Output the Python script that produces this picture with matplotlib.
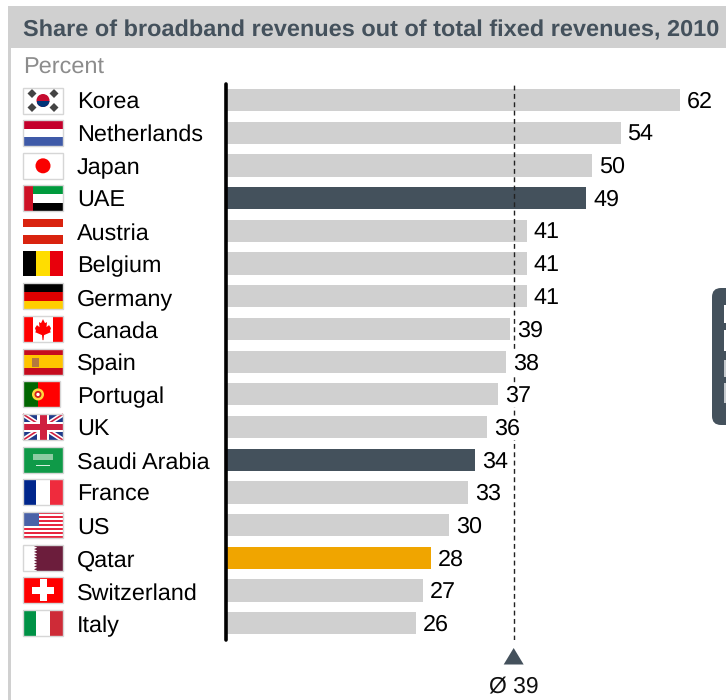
import numpy as np
import matplotlib
matplotlib.use('Agg')
import matplotlib.pyplot as plt
from matplotlib.patches import Rectangle, Circle, Polygon, FancyBboxPatch

plt.rcParams['font.family'] = ['Liberation Sans', 'DejaVu Sans']
plt.rcParams['text.hinting'] = 'none'
plt.rcParams['text.hinting_factor'] = 8

countries = ['Korea', 'Netherlands', 'Japan', 'UAE', 'Austria', 'Belgium', 'Germany', 'Canada',
             'Spain', 'Portugal', 'UK', 'Saudi Arabia', 'France', 'US', 'Qatar', 'Switzerland', 'Italy']
values = [62.0, 53.9, 50.0, 49.2, 41.1, 41.1, 41.1, 38.8, 38.3, 37.2, 35.7, 34.0, 33.1, 30.5, 28.0, 26.9, 26.0]
labels = ['62', '54', '50', '49', '41', '41', '41', '39', '38', '37', '36', '34', '33', '30', '28', '27', '26']
average = 39.3
average_label = 'Ø 39'
title = 'Share of broadband revenues out of total fixed revenues, 2010'
unit = 'Percent'

GREY = '#d0d0d0'
SLATE = '#44515c'
AMBER = '#f0a500'
colors = {'UAE': SLATE, 'Saudi Arabia': SLATE, 'Qatar': AMBER}

fig = plt.figure(figsize=(7.26, 7.0), dpi=100)

# pixel overlay for the frame, flags and text
bg = fig.add_axes([0, 0, 1, 1])
bg.set_xlim(0, 726)
bg.set_ylim(700, 0)
bg.axis('off')

bg.add_patch(Rectangle((8, 6), 718, 42, color=GREY, lw=0))
bg.add_patch(Rectangle((8, 48), 2.5, 652, color=GREY, lw=0))
bg.text(23, 36, title, fontsize=16.9, fontweight='bold', color=SLATE, va='baseline')
bg.text(23, 73.3, unit, fontsize=16.9, color='#8c8c8c', va='baseline')

# box cut off by the right edge
bg.add_patch(FancyBboxPatch((712, 288), 40, 137, boxstyle='round,pad=0,rounding_size=9',
                            fc=SLATE, ec='none', lw=0))
for y0, y1, a in [(305, 323, 1), (330, 351, 1), (360, 377, 0.7), (383, 403, 0.7)]:
    bg.add_patch(Rectangle((724, y0), 2, y1 - y0, color='white', lw=0, alpha=a))

# bars
ax = fig.add_axes([226 / 726, 1 - 640 / 700, 500 / 726, 556 / 700])
ax.patch.set_alpha(0)
ax.set_xlim(0, 500 / 7.32)
ax.set_ylim(16.51, -0.49)
ypos = np.arange(len(countries))
ax.barh(ypos, values, height=0.68, color=[colors.get(c, GREY) for c in countries], lw=0, zorder=2)
ax.axvline(average, color='#222222', lw=1, dashes=(3.5, 2.5), zorder=3)
for y, v, l in zip(ypos, values, labels):
    ax.annotate(l, xy=(v, y), xytext=(5, -5.5), textcoords='offset points', fontsize=16.85, color='black',
                va='baseline', ha='left', zorder=4, bbox=dict(fc='white', ec='none', pad=0.5))
for s in ['top', 'right', 'bottom']:
    ax.spines[s].set_visible(False)
ax.spines['left'].set_linewidth(2.6)
ax.spines['left'].set_capstyle('round')
ax.set_xticks([])
ax.set_yticks(ypos)
ax.set_yticklabels([])
ax.tick_params(left=False)
for y, c in zip(ypos, countries):
    bg.text(77, 108.5 + 32.72 * y, c, fontsize=16.85, va='baseline', ha='left', color='black')

# average marker
bx = 226 + average * 7.32
bg.add_patch(Polygon([[bx - 10, 664.5], [bx + 10, 664.5], [bx, 648]], color=SLATE, lw=0))
bg.text(bx, 693, average_label, fontsize=16.5, ha='center', va='baseline', color='#111111')


# flags
def rect(x, y, w, h, c, z=5):
    bg.add_patch(Rectangle((x, y), w, h, fc=c, ec='none', lw=0, zorder=z))


def hstripes(x, y, w, h, cs):
    for i, c in enumerate(cs):
        rect(x, y + i * h / len(cs), w, h / len(cs), c)


def vstripes(x, y, w, h, cs):
    for i, c in enumerate(cs):
        rect(x + i * w / len(cs), y, w / len(cs), h, c)


def draw_flag(name, x, y, w, h):
    cx, cy = x + w / 2, y + h / 2
    if name == 'Korea':
        rect(x, y, w, h, 'white')
        bg.add_patch(Circle((cx, cy), 6.5, fc='#c60c30', ec='none', zorder=6))
        bg.add_patch(Rectangle((cx - 6.5, cy), 13, 6.5, fc='#003478', ec='none', zorder=6,
                               clip_path=Circle((cx, cy), 6.5, transform=bg.transData)))
        for dx, dy in [(-11, -7), (11, -7), (-11, 7), (11, 7)]:
            bg.add_patch(Polygon([[cx + dx - 4.5, cy + dy], [cx + dx, cy + dy - 4.5],
                                  [cx + dx + 4.5, cy + dy], [cx + dx, cy + dy + 4.5]],
                                 fc='#444444', ec='none', zorder=6))
    elif name == 'Netherlands':
        hstripes(x, y, w, h, ['#c4002b', 'white', '#3f5aa8'])
    elif name == 'Japan':
        rect(x, y, w, h, 'white')
        bg.add_patch(Circle((cx, cy), 7.5, fc='#fa0000', ec='none', zorder=6))
    elif name == 'UAE':
        hstripes(x, y, w, h, ['#009a3d', 'white', 'black'])
        rect(x, y, 10, h, '#ce1126', 6)
    elif name == 'Austria':
        hstripes(x, y, w, h, ['#d9230f', 'white', '#d9230f'])
    elif name == 'Belgium':
        vstripes(x, y, w, h, ['black', '#ffdd00', '#e8000c'])
    elif name == 'Germany':
        hstripes(x, y, w, h, ['black', '#dd0000', '#ffce00'])
    elif name == 'Canada':
        vstripes(x, y, w, h, ['#ff0000', 'white', 'white', '#ff0000'])
        bg.add_patch(Polygon([[cx, cy - 10], [cx + 2, cy - 6], [cx + 4, cy - 7], [cx + 3.5, cy - 2],
                              [cx + 6, cy - 4], [cx + 8, cy - 1], [cx + 7, cy + 2], [cx + 8, cy + 3],
                              [cx + 1, cy + 6], [cx + 0.5, cy + 11], [cx - 0.5, cy + 11], [cx - 1, cy + 6],
                              [cx - 8, cy + 3], [cx - 7, cy + 2], [cx - 8, cy - 1], [cx - 6, cy - 4],
                              [cx - 3.5, cy - 2], [cx - 4, cy - 7], [cx - 2, cy - 6]],
                             fc='#ff0000', ec='none', zorder=6))
    elif name == 'Spain':
        hstripes(x, y, w, h, ['#c60b1e', '#ffc400', '#ffc400', '#c60b1e'])
        rect(x + 9, cy - 4, 7, 9, '#b5793f', 6)
    elif name == 'Portugal':
        rect(x, y, w, h, '#ff0000')
        rect(x, y, 15, h, '#006600', 6)
        bg.add_patch(Circle((x + 15, cy), 6, fc='#ffd83d', ec='none', zorder=7))
        bg.add_patch(Circle((x + 15, cy), 3.5, fc='#d01c1f', ec='none', zorder=8))
        bg.add_patch(Circle((x + 15, cy), 1.7, fc='white', ec='none', zorder=9))
    elif name == 'UK':
        rect(x, y, w, h, '#1f3a8a')
        for a, b in [((x, y), (x + w, y + h)), ((x, y + h), (x + w, y))]:
            bg.plot([a[0], b[0]], [a[1], b[1]], color='white', lw=3.5, zorder=6, solid_capstyle='butt')
            bg.plot([a[0], b[0]], [a[1], b[1]], color='#cf2040', lw=1.2, zorder=7, solid_capstyle='butt')
        rect(x, cy - 5, w, 10, 'white', 8)
        rect(cx - 6, y, 12, h, 'white', 8)
        rect(x, cy - 3, w, 6, '#cf2040', 9)
        rect(cx - 3.5, y, 7, h, '#cf2040', 9)
    elif name == 'Saudi Arabia':
        rect(x, y, w, h, '#0f9a48')
        rect(cx - 10, cy - 6, 20, 6, '#8ccca2', 6)
        rect(cx - 7, cy + 5, 14, 0.8, '#d8f0e0', 6)
    elif name == 'France':
        vstripes(x, y, w, h, ['#00268c', 'white', '#ef2b3d'])
    elif name == 'US':
        hstripes(x, y, w, h, ['#e8263f', 'white'] * 6 + ['#e8263f'])
        rect(x, y, 15.5, h * 0.53, '#4a62a8', 6)
    elif name == 'Qatar':
        rect(x, y, w, h, 'white')
        rect(x + 14, y, w - 14, h, '#6c1d3c', 6)
        for k in range(9):
            py = y + k * h / 9
            bg.add_patch(Polygon([[x + 14.2, py], [x + 14.2, py + h / 9], [x + 11, py + h / 18]],
                                 fc='#6c1d3c', ec='none', zorder=6))
    elif name == 'Switzerland':
        rect(x, y, w, h, '#ff0000')
        rect(cx - 11, cy - 3.5, 22, 7, 'white', 6)
        rect(cx - 3.5, cy - 11, 7, 22, 'white', 6)
    elif name == 'Italy':
        vstripes(x, y, w, h, ['#009246', 'white', '#ce2b37'])


for i, c in enumerate(countries):
    yc = 100.5 + 32.66 * i
    fw = 37 if c == 'Portugal' else 40
    h = 25 if c in ['Austria', 'Belgium'] else 26
    draw_flag(c, 23, yc - h / 2, fw, h)
    if c not in ['Austria', 'Belgium']:
        bg.add_patch(Rectangle((23, yc - h / 2), fw, h, fc='none', ec='#d6d6d6', lw=1, zorder=12))

bg.set_xlim(0, 726)
bg.set_ylim(700, 0)
plt.savefig('out.png', dpi=100)
